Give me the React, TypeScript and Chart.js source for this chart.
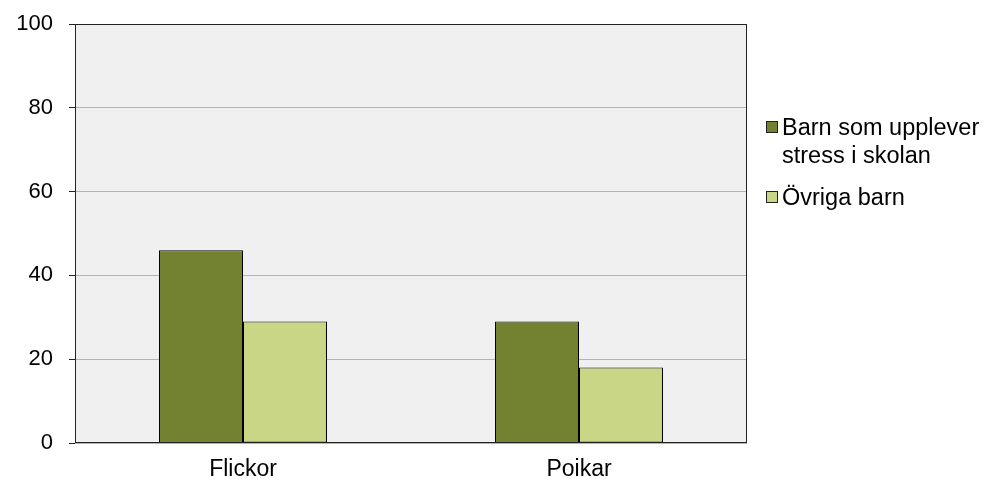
import React, { useEffect, useRef } from "react";
import { Chart, registerables } from "chart.js";

Chart.register(...registerables);

const categories = ["Flickor", "Poikar"];
const stressValues = [46, 29];
const otherValues = [29, 18];
const seriesLabels = [["Barn som upplever", "stress i skolan"], ["Övriga barn"]];
const seriesColors = ["#738230", "#c8d686"];

const FONT = "'Liberation Sans', Arial, sans-serif";

const plotPlugin = {
  id: "plotDecor",
  beforeDraw(chart: any) {
    const { ctx, chartArea } = chart;
    ctx.save();
    ctx.fillStyle = "#f0f0f0";
    ctx.fillRect(chartArea.left, chartArea.top, chartArea.right - chartArea.left, chartArea.bottom - chartArea.top);
    ctx.restore();
  },
  afterDraw(chart: any) {
    const { ctx, chartArea } = chart;
    ctx.save();
    ctx.strokeStyle = "#222222";
    ctx.lineWidth = 1;
    const l = Math.round(chartArea.left) + 0.5;
    const t = Math.round(chartArea.top) + 0.5;
    const r = Math.round(chartArea.right) - 0.5;
    const b = Math.round(chartArea.bottom) - 0.5;
    ctx.strokeRect(l, t, r - l, b - t);
    // legend
    const x0 = Math.round(chartArea.right) + 19;
    const tx = x0 + 16;
    const items = [
      { markerY: 121, lines: seriesLabels[0], baselines: [135, 163] },
      { markerY: 191, lines: seriesLabels[1], baselines: [205] },
    ];
    ctx.font = `23.5px ${FONT}`;
    ctx.textBaseline = "alphabetic";
    ctx.textAlign = "left";
    items.forEach((it, i) => {
      ctx.fillStyle = seriesColors[i];
      ctx.fillRect(x0, it.markerY, 12, 12);
      ctx.strokeStyle = "#222222";
      ctx.strokeRect(x0 + 0.5, it.markerY + 0.5, 11, 11);
      ctx.fillStyle = "#000000";
      it.lines.forEach((ln, j) => ctx.fillText(ln, tx, it.baselines[j]));
    });
    ctx.restore();
  },
};

export default function App() {
  const ref = useRef<HTMLCanvasElement | null>(null);
  useEffect(() => {
    if (!ref.current) return;
    const chart = new Chart(ref.current, {
      type: "bar",
      data: {
        labels: categories,
        datasets: [
          {
            label: seriesLabels[0].join(" "),
            data: stressValues,
            backgroundColor: seriesColors[0],
            borderColor: "#000000",
            borderWidth: 1,
            borderSkipped: false,
            inflateAmount: 0,
          },
          {
            label: seriesLabels[1].join(" "),
            data: otherValues,
            backgroundColor: seriesColors[1],
            borderColor: "#000000",
            borderWidth: 1,
            borderSkipped: false,
            inflateAmount: 0,
          },
        ],
      },
      options: {
        responsive: false,
        animation: false,
        layout: { padding: { top: 24, right: 238, left: 0, bottom: 0 } },
        datasets: { bar: { categoryPercentage: 0.5, barPercentage: 1.0 } },
        plugins: { legend: { display: false }, tooltip: { enabled: false } },
        scales: {
          x: {
            grid: { display: false, drawTicks: false },
            border: { display: false },
            ticks: { color: "#000", font: { family: FONT, size: 23 }, padding: 13 },
            afterFit: (s: any) => { s.height = 36; s.paddingLeft = 0; s.paddingRight = 0; },
          },
          y: {
            min: 0,
            max: 100,
            ticks: { stepSize: 20, color: "#000", font: { family: FONT, size: 22 }, padding: 16 },
            grid: { color: "#b3b3b3", tickColor: "#222222", tickLength: 6, lineWidth: 1 },
            border: { display: false },
            afterFit: (s: any) => { s.width = 75; s.paddingTop = 0; s.paddingBottom = 0; },
          },
        },
      },
      plugins: [plotPlugin],
    });
    return () => chart.destroy();
  }, []);
  return (
    <div style={{ position: "absolute", left: 0, top: 0, width: 985, height: 479, background: "#fff" }}>
      <canvas ref={ref} width={985} height={479} />
    </div>
  );
}
